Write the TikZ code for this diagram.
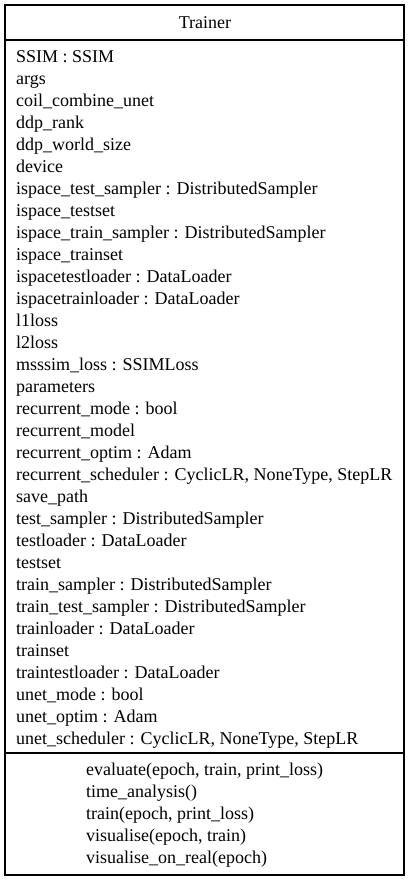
\documentclass[tikz,border=0pt]{standalone}
\usepackage{fontspec}
\setmainfont{Liberation Serif}
\tikzset{
  member/.style={anchor=base west, inner sep=0pt, font=\fontsize{18}{18}\selectfont},
  title/.style={anchor=base, inner sep=0pt, font=\fontsize{18}{18}\selectfont},
  classbox/.style={draw=black, line width=1.1pt}
}
\begin{document}
\begin{tikzpicture}[x=1pt,y=-1pt]

\useasboundingbox (0,0) rectangle (410,880);

\coordinate (NW) at (5,5);
\coordinate (SE) at (404,875);
\draw[classbox] (NW) rectangle (SE);
\draw[classbox] (5,40) -- (404,40);
\draw[classbox] (5,753) -- (404,753);

\node[title] (trainer) at (205,29) {Trainer};

% attributes
\foreach \attr [count=\i] in {SSIM : SSIM, args, coil\_combine\_unet, ddp\_rank,
    ddp\_world\_size, device, ispace\_test\_sampler : DistributedSampler,
    ispace\_testset, ispace\_train\_sampler : DistributedSampler, ispace\_trainset,
    ispacetestloader : DataLoader, ispacetrainloader : DataLoader, l1loss, l2loss,
    msssim\_loss : SSIMLoss, parameters, recurrent\_mode : bool, recurrent\_model,
    recurrent\_optim : Adam, {recurrent\_scheduler : CyclicLR, NoneType, StepLR},
    save\_path, test\_sampler : DistributedSampler, testloader : DataLoader, testset,
    train\_sampler : DistributedSampler, train\_test\_sampler : DistributedSampler,
    trainloader : DataLoader, trainset, traintestloader : DataLoader,
    unet\_mode : bool, unet\_optim : Adam, {unet\_scheduler : CyclicLR, NoneType, StepLR}}
  \node[member] (attr\i) at (16,{62.2+22*(\i-1)}) {\attr};

% methods
\foreach \meth [count=\i] in {{evaluate(epoch, train, print\_loss)}, time\_analysis(),
    {train(epoch, print\_loss)}, {visualise(epoch, train)}, visualise\_on\_real(epoch)}
  \node[member] (meth\i) at (86,{775+22*(\i-1)}) {\meth};

\end{tikzpicture}
\end{document}
